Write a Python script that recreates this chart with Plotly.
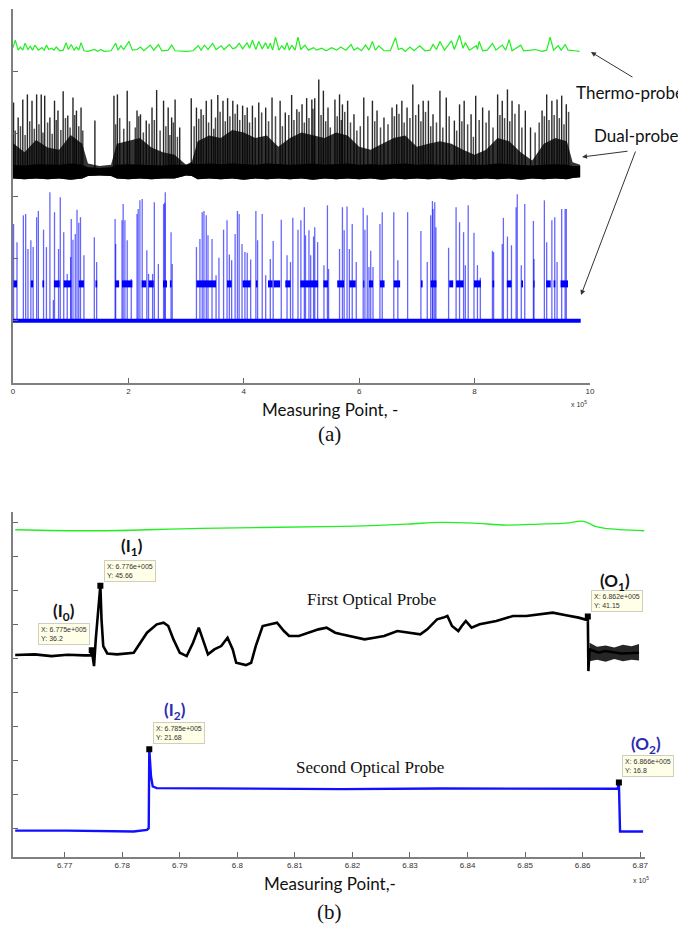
import plotly.graph_objects as go

# page body has an 8px margin; the figure fills the rest of the 686x928 window
OFF = 8
W, H = 686 - OFF, 928 - OFF

# ---------------- Panel (a): x in units of 1e5 measuring points, y = signal level (no labels) -------------
green_a_x = [0.00,0.04,0.09,0.13,0.17,0.21,0.26,0.30,0.34,0.38,0.44,0.50,0.54,0.58,0.62,0.67,0.71,0.75,0.81,0.87,
             0.92,0.96,1.01,1.06,1.10,1.14,1.18,1.23,1.30,1.41,1.47,1.52,1.58,1.70,1.78,1.82,1.87,1.92,2.01,2.07,
             2.15,2.21,2.27,2.38,2.44,2.52,2.58,2.69,2.75,2.81,3.01,3.12,3.21,3.26,3.32,3.38,3.46,3.52,3.61,3.66,
             3.75,3.81,3.86,3.92,3.98,4.06,4.10,4.15,4.21,4.26,4.32,4.38,4.42,4.46,4.50,4.55,4.61,4.66,4.71,4.75,
             4.79,4.83,4.89,4.94,4.99,5.06,5.12,5.21,5.26,5.35,5.43,5.52,5.61,5.68,
             5.77,5.86,5.91,5.97,6.04,6.11,6.17,6.23,6.28,6.34,6.43,6.54,6.63,6.68,6.74,6.80,6.88,6.95,7.05,7.14,
             7.23,7.28,7.34,7.40,7.48,7.60,7.65,7.74,7.80,7.84,7.91,8.03,8.05,8.08,8.14,8.22,8.31,8.37,8.48,8.54,
             8.60,8.65,8.80,8.85,8.97,9.05,9.17,9.25,9.31,9.37,9.45,9.50,9.57,9.62,9.74,9.82]
green_a_y = [5.38,5.50,5.34,5.39,5.34,5.45,5.35,5.40,5.34,5.42,5.34,5.38,5.34,5.42,5.35,5.37,5.34,5.39,5.33,5.34,
             5.46,5.35,5.43,5.34,5.39,5.34,5.46,5.33,5.32,5.35,5.32,5.35,5.32,5.33,5.45,5.34,5.41,5.35,5.48,5.34,
             5.35,5.39,5.33,5.42,5.34,5.43,5.33,5.34,5.42,5.33,5.32,5.33,5.41,5.34,5.42,5.35,5.45,5.35,5.41,5.35,
             5.43,5.36,5.38,5.45,5.36,5.46,5.37,5.50,5.35,5.48,5.36,5.46,5.36,5.45,5.34,5.55,5.34,5.41,5.35,5.46,
             5.34,5.42,5.34,5.55,5.35,5.42,5.34,5.38,5.34,5.37,5.33,5.38,5.34,5.39,
             5.34,5.43,5.34,5.38,5.33,5.42,5.34,5.48,5.34,5.41,5.33,5.33,5.54,5.35,5.37,5.32,5.39,5.33,5.41,5.33,
             5.34,5.43,5.35,5.48,5.34,5.49,5.35,5.58,5.37,5.46,5.34,5.41,5.35,5.48,5.33,5.34,5.45,5.34,5.42,5.34,
             5.51,5.33,5.42,5.33,5.34,5.35,5.32,5.34,5.55,5.34,5.41,5.34,5.43,5.34,5.33,5.32]

black_spike_x = [0.01,0.09,0.17,0.25,0.33,0.41,0.49,0.55,0.64,0.72,0.78,0.87,0.95,1.04,1.10,1.18,1.42,1.75,1.81,1.98,
                 2.15,2.21,2.31,2.41,2.49,2.61,2.69,2.75,2.81,2.89,3.09,3.18,3.26,3.35,3.44,3.55,3.64,3.72,3.81,3.89,
                 3.98,4.06,4.15,4.26,4.38,4.49,4.63,4.72,4.83,4.92,5.01,5.09,5.18,5.23,5.30,5.38,5.46,5.58,5.66,
                 5.71,5.80,5.91,6.08,6.23,6.31,6.43,6.57,6.65,6.74,6.83,6.93,7.03,7.11,7.20,7.28,7.40,7.51,7.65,7.74,
                 7.82,7.94,8.02,8.14,8.25,8.40,8.48,8.57,8.65,8.77,8.88,8.97,9.17,9.25,9.34,9.43,9.51,9.59]
black_spike_y = [4.50,4.26,4.55,4.63,4.53,4.63,4.63,4.61,4.26,4.53,4.37,4.68,4.29,4.58,4.37,4.42,4.21,4.61,4.63,4.69,
                 4.37,4.31,4.21,4.42,4.70,4.53,4.42,4.26,4.55,4.10,4.57,4.42,4.39,4.53,4.55,4.62,4.53,4.57,4.53,4.47,
                 4.45,4.42,4.45,4.50,4.42,4.58,4.53,4.34,4.62,4.39,4.47,4.57,4.55,4.57,4.87,4.69,4.42,4.55,4.63,
                 4.47,4.53,4.31,4.58,4.53,4.37,4.26,4.42,4.47,4.53,4.42,4.79,4.47,4.53,4.53,4.31,4.69,4.58,4.21,4.47,
                 4.53,4.31,4.61,4.42,4.37,4.63,4.53,4.71,4.53,4.47,4.37,4.10,4.37,4.63,4.53,4.55,4.61,4.47]
# lower, grey-looking spikes inside the bursts
black_minor_x = [0.04,0.13,0.21,0.29,0.37,0.45,0.52,0.60,0.68,0.75,0.83,0.91,0.99,1.07,1.14,1.21,1.78,1.85,1.92,2.02,
                 2.12,2.18,2.26,2.36,2.45,2.55,2.65,2.72,2.78,2.85,3.14,3.22,3.30,3.39,3.48,3.51,3.59,3.68,3.76,3.85,
                 3.93,4.02,4.10,4.20,4.31,4.43,4.55,4.67,4.78,4.87,4.96,5.05,5.13,5.20,5.34,5.42,5.50,5.62,5.69,5.75,
                 5.85,5.96,6.02,6.15,6.27,6.37,6.50,6.61,6.69,6.78,6.88,6.98,7.07,7.15,7.24,7.34,7.45,7.56,7.69,7.78,
                 7.88,7.98,8.08,8.20,8.32,8.44,8.52,8.61,8.70,8.82,9.05,9.12,9.21,9.29,9.38,9.47,9.55,9.63]
black_minor_y = [4.05,4.12,3.98,4.20,4.08,4.15,4.02,4.18,4.00,4.22,4.06,4.25,4.10,4.30,4.12,4.05,4.15,4.25,4.08,4.20,
                 4.10,4.28,4.02,4.16,4.22,4.05,4.12,3.98,4.18,3.95,4.12,4.24,4.30,4.18,4.08,4.26,4.35,4.20,4.28,4.32,
                 4.22,4.30,4.18,4.26,4.34,4.20,4.28,4.12,4.30,4.22,4.35,4.18,4.25,4.40,4.30,4.20,4.10,4.28,4.22,4.35,
                 4.18,4.05,4.12,4.28,4.20,4.10,4.15,4.28,4.32,4.18,4.25,4.30,4.20,4.35,4.12,4.18,4.10,4.28,4.05,4.20,
                 4.15,3.95,4.22,4.18,4.10,4.30,4.25,4.20,4.32,4.10,4.02,4.18,4.28,4.22,4.30,4.25,4.15,4.35]
black_band_x = [0.0,0.2,0.4,0.6,0.8,1.0,1.2,1.3,1.5,1.7,1.8,2.0,2.2,2.4,2.6,2.8,3.0,3.1,3.2,3.4,3.6,3.8,4.0,4.2,4.4,
                4.6,4.8,5.0,5.2,5.4,5.6,5.8,6.0,6.2,6.4,6.6,6.8,7.0,7.2,7.4,7.6,7.8,8.0,8.2,8.4,8.6,8.8,9.0,9.2,9.4,
                9.6,9.7,9.83]
black_band_lo = [3.28,3.27,3.28,3.27,3.28,3.26,3.28,3.32,3.33,3.32,3.28,3.27,3.28,3.27,3.28,3.28,3.33,3.32,3.27,3.28,
                 3.27,3.28,3.26,3.28,3.27,3.28,3.27,3.28,3.26,3.28,3.27,3.28,3.27,3.28,3.26,3.28,3.27,3.28,3.27,3.28,
                 3.26,3.28,3.27,3.28,3.27,3.28,3.26,3.28,3.27,3.28,3.27,3.29,3.30]
black_band_hi = [3.50,3.49,3.51,3.50,3.50,3.52,3.50,3.46,3.45,3.46,3.50,3.51,3.50,3.50,3.49,3.50,3.50,3.52,3.51,3.52,
                 3.51,3.52,3.51,3.50,3.52,3.51,3.50,3.51,3.52,3.50,3.51,3.52,3.50,3.51,3.50,3.51,3.52,3.50,3.51,3.50,
                 3.50,3.51,3.50,3.50,3.52,3.51,3.50,3.49,3.50,3.51,3.50,3.48,3.48]
black_burst_hi = [3.85,3.70,3.90,3.78,3.74,3.98,3.84,3.52,3.48,3.50,3.84,3.88,3.93,3.78,3.70,3.66,3.50,3.55,3.88,3.97,
                  3.93,4.06,4.02,3.93,3.97,3.79,3.93,4.02,3.97,3.93,4.02,3.97,3.79,3.74,3.84,3.93,3.97,3.79,3.84,3.88,
                  3.84,3.74,3.66,3.74,3.93,3.88,3.70,3.57,3.84,3.93,3.88,3.54,3.50]
black_base_level = 3.39

blue_spike_x = [0.01,0.07,0.18,0.22,0.26,0.31,0.35,0.41,0.44,0.53,0.58,0.64,0.70,0.72,0.79,0.82,0.88,0.94,1.00,1.01,
                1.04,1.08,1.11,1.14,1.17,1.23,1.41,1.45,1.77,1.78,1.89,1.91,1.94,1.98,2.05,2.15,2.17,2.20,2.24,2.32,
                2.35,2.42,2.45,2.52,2.61,2.63,2.64,2.74,2.76,3.18,3.24,3.28,3.31,3.35,3.38,3.45,3.52,3.57,3.65,3.71,
                3.75,3.79,3.85,3.89,3.92,3.97,4.02,4.06,4.12,4.21,4.24,4.32,4.38,4.46,4.51,4.65,4.75,4.81,4.85,4.94,
                4.99,5.05,5.07,5.13,5.16,5.21,5.23,5.28,5.39,5.45,5.47,5.66,
                5.71,5.74,5.79,5.83,5.88,5.95,6.07,6.10,6.14,6.17,6.20,6.24,6.36,6.40,6.60,6.67,6.84,7.07,7.18,7.24,
                7.27,7.28,7.31,7.33,7.55,7.68,7.74,7.81,7.84,7.89,7.99,8.05,8.10,8.31,8.33,8.48,8.50,8.57,8.64,8.72,
                8.74,8.81,8.87,9.02,9.03,9.21,9.25,9.34,9.39,9.43,9.51,9.57,9.59]
blue_spike_y = [2.55,2.26,2.69,2.71,2.15,2.29,2.18,2.66,2.76,2.46,2.18,3.06,1.33,2.74,2.15,2.98,2.42,1.75,2.02,2.63,
                2.30,2.39,2.78,2.57,2.66,2.05,2.34,1.94,2.63,2.23,2.61,2.87,2.61,2.29,1.67,2.71,2.79,2.93,2.95,2.13,
                1.75,1.75,2.90,1.91,2.87,2.89,3.06,2.42,1.91,2.18,2.31,2.74,2.76,2.69,2.37,2.31,1.73,2.01,2.46,2.61,
                2.06,1.97,2.39,2.76,2.71,2.23,2.10,2.09,1.98,2.76,2.29,2.71,1.73,1.99,2.28,2.62,2.05,1.94,2.65,2.46,
                2.61,2.82,2.37,2.45,2.05,2.35,2.50,2.26,1.89,2.85,1.83,2.15,
                2.82,2.45,2.83,2.15,2.55,1.94,2.81,2.46,2.69,1.86,2.12,1.86,2.55,2.74,2.74,1.97,2.74,2.44,1.94,2.69,
                2.92,2.79,2.90,2.50,2.17,2.82,2.58,2.42,1.89,2.85,2.41,1.89,1.69,2.12,2.10,2.23,2.65,2.35,2.21,2.82,
                3.03,1.89,2.87,2.60,1.99,2.93,2.26,2.61,2.66,1.94,2.79,2.79,2.79]
blue_block_start = [0.01,0.31,0.51,0.71,0.88,1.14,1.43,1.77,1.89,2.23,2.35,2.60,2.72,3.18,3.71,3.98,4.21,4.42,4.52,4.72,
                    4.98,5.38,5.62,5.83,6.07,6.17,6.36,6.60,7.07,7.24,7.56,7.68,7.99,8.31,8.56,8.81,9.02,9.24,9.37,9.49]
blue_block_end = [0.07,0.35,0.54,0.81,1.01,1.23,1.46,1.84,2.07,2.31,2.44,2.67,2.75,3.52,3.79,4.12,4.24,4.50,4.63,4.81,
                  5.29,5.46,5.74,5.94,6.09,6.24,6.44,6.71,7.10,7.34,7.63,7.81,8.11,8.34,8.64,8.84,9.04,9.32,9.40,9.62]
blue_levels = [1.00, 1.59]
blue_end_x = 9.84

# ---------------- Panel (b): x in units of 1e5, y = probe signal ----------------
green_b_x = [6.7614,6.7763,6.7935,6.8181,6.8295,6.8353,6.8410,6.8467,6.8525,6.8571,6.8602,6.8622,6.8639,6.8707]
green_b_y = [53.87,53.72,54.07,54.36,54.70,54.95,54.85,54.56,54.70,54.85,55.10,54.36,54.07,53.72]

black_b_x = [6.7614,6.7648,6.7677,6.7705,6.7734,6.7746,6.7747,6.7751,6.7754,6.7758,
             6.7762,6.7764,6.7767,6.7774,6.7791,6.7820,6.7832,6.7843,6.7860,6.7872,
             6.7880,6.7889,6.7900,6.7912,6.7923,6.7933,6.7940,6.7949,6.7960,6.7972,
             6.7983,6.7992,6.7998,6.8015,6.8024,6.8032,6.8044,6.8055,6.8069,6.8081,
             6.8090,6.8107,6.8124,6.8141,6.8155,6.8170,6.8181,6.8204,6.8221,6.8238,
             6.8255,6.8278,6.8295,6.8318,6.8330,6.8347,6.8358,6.8365,6.8373,6.8384,
             6.8390,6.8397,6.8407,6.8421,6.8450,6.8479,6.8502,6.8525,6.8548,6.8571,
             6.8593,6.8608,6.8609,6.8610,6.8612,6.8628,6.8639,6.8668,6.8698]
black_b_y = [35.49,35.59,35.34,35.54,35.44,35.44,36.22,33.87,37.79,41.22,
             45.73,40.73,36.81,35.73,35.59,35.83,37.30,38.77,40.00,40.24,
             39.75,37.79,35.83,35.34,37.30,39.51,37.79,35.59,36.32,36.81,
             38.04,36.32,34.36,34.02,34.36,36.81,39.75,40.00,40.24,39.02,
             38.28,38.28,38.77,39.26,39.51,38.77,38.53,38.04,37.79,38.04,
             38.28,39.02,38.77,38.53,39.26,40.73,40.98,41.22,39.75,39.02,
             39.75,40.49,39.51,40.00,40.49,41.22,41.22,41.47,41.71,41.32,
             40.98,40.63,41.27,33.14,36.32,35.83,36.08,35.73,35.83]
black_b_tail_x = [6.8612,6.8625,6.8640,6.8655,6.8670,6.8685,6.8698]
black_b_tail_lo = [34.6,34.8,34.5,34.9,34.6,34.8,34.7]
black_b_tail_hi = [37.3,36.7,36.9,36.6,37.0,36.8,37.1]

blue_b_x = [6.7614,6.7705,6.7820,6.7843,6.7846,6.7847,6.7850,6.7853,6.7860,6.7935,6.8181,6.8353,6.8525,6.8661,
            6.8663,6.8665,6.8705]
blue_b_y = [9.75,9.75,9.61,9.85,10.10,21.71,17.69,16.22,15.98,15.93,15.83,15.93,15.88,15.88,16.81,9.61,9.61]

tip_x = [6.7747, 6.7762, 6.8609, 6.7847, 6.8663]
tip_y = [36.2, 45.66, 41.15, 21.68, 16.8]
tip_text = ["X: 6.775e+005<br>Y: 36.2", "X: 6.776e+005<br>Y: 45.66", "X: 6.862e+005<br>Y: 41.15",
            "X: 6.785e+005<br>Y: 21.68", "X: 6.866e+005<br>Y: 16.8"]
event_labels = ["(I<sub>0</sub>)", "(I<sub>1</sub>)", "(O<sub>1</sub>)", "(I<sub>2</sub>)", "(O<sub>2</sub>)"]

xb_ticks = [6.77, 6.78, 6.79, 6.80, 6.81, 6.82, 6.83, 6.84, 6.85, 6.86, 6.87]
xb_ticktext = ["6.77", "6.78", "6.79", "6.8", "6.81", "6.82", "6.83", "6.84", "6.85", "6.86", "6.87"]


def spike_path(xs, ys, base):
    X, Y = [], []
    for x, y in zip(xs, ys):
        X += [x, x, None]
        Y += [base, y, None]
    return X, Y


def px(x):
    # window pixel -> paper fraction
    return (x - OFF) / W


def py(y):
    return 1 - (y - OFF) / H


fig = go.Figure()

# ---- panel (a) ----
fig.add_trace(go.Scatter(x=green_a_x, y=green_a_y, mode="lines",
                         line=dict(color="#22ee22", width=1.2), xaxis="x", yaxis="y"))

fig.add_trace(go.Scatter(x=black_band_x, y=black_band_lo, mode="lines", line=dict(width=0),
                         xaxis="x", yaxis="y"))
fig.add_trace(go.Scatter(x=black_band_x, y=black_burst_hi, mode="lines", line=dict(width=0),
                         fill="tonexty", fillcolor="rgba(0,0,0,0.8)", xaxis="x", yaxis="y"))
fig.add_trace(go.Scatter(x=black_band_x, y=black_band_lo, mode="lines", line=dict(width=0),
                         xaxis="x", yaxis="y"))
fig.add_trace(go.Scatter(x=black_band_x, y=black_band_hi, mode="lines", line=dict(width=0),
                         fill="tonexty", fillcolor="#000000", xaxis="x", yaxis="y"))
mx, my = spike_path(black_minor_x, black_minor_y, black_base_level)
fig.add_trace(go.Scatter(x=mx, y=my, mode="lines", line=dict(color="rgba(0,0,0,0.7)", width=1.5),
                         xaxis="x", yaxis="y"))
bx, by = spike_path(black_spike_x, black_spike_y, black_base_level)
fig.add_trace(go.Scatter(x=bx, y=by, mode="lines", line=dict(color="rgba(0,0,0,0.85)", width=1.4),
                         xaxis="x", yaxis="y"))

lo, mid = blue_levels
kx, ky = [], []
for s, e in zip(blue_block_start, blue_block_end):
    kx += [s, e, None]
    ky += [mid, mid, None]
ux, uy = spike_path(blue_spike_x, blue_spike_y, lo)
fig.add_trace(go.Scatter(x=ux, y=uy, mode="lines", line=dict(color="rgba(0,0,255,0.6)", width=1.3),
                         xaxis="x", yaxis="y"))
fig.add_trace(go.Scatter(x=[0.0, blue_end_x], y=[lo, lo], mode="lines", line=dict(color="#0000ff", width=4),
                         xaxis="x", yaxis="y"))
fig.add_trace(go.Scatter(x=kx, y=ky, mode="lines", line=dict(color="#0000ff", width=7),
                         xaxis="x", yaxis="y"))

# ---- panel (b) ----
fig.add_trace(go.Scatter(x=green_b_x, y=green_b_y, mode="lines", line=dict(color="#22ee22", width=1.3),
                         line_shape="spline", xaxis="x2", yaxis="y2"))
fig.add_trace(go.Scatter(x=black_b_tail_x, y=black_b_tail_lo, mode="lines", line=dict(width=0),
                         xaxis="x2", yaxis="y2"))
fig.add_trace(go.Scatter(x=black_b_tail_x, y=black_b_tail_hi, mode="lines", line=dict(width=0),
                         fill="tonexty", fillcolor="rgba(0,0,0,0.85)", xaxis="x2", yaxis="y2"))
fig.add_trace(go.Scatter(x=black_b_x, y=black_b_y, mode="lines", line=dict(color="#000000", width=2.6),
                         xaxis="x2", yaxis="y2"))
fig.add_trace(go.Scatter(x=blue_b_x, y=blue_b_y, mode="lines", line=dict(color="#1010ff", width=2.4),
                         xaxis="x2", yaxis="y2"))
fig.add_trace(go.Scatter(x=tip_x, y=tip_y, mode="markers",
                         marker=dict(symbol="square", size=6, color="#000000"),
                         xaxis="x2", yaxis="y2"))

axis_common = dict(showgrid=False, zeroline=False, showline=True, linecolor="#808080", linewidth=1.5,
                   ticks="inside", ticklen=5, tickwidth=1, tickcolor="#666666", mirror=False,
                   tickfont=dict(family="Liberation Sans", size=8, color="#333333"))

fig.update_layout(
    width=W, height=H, autosize=False, showlegend=False,
    margin=dict(l=0, r=0, t=0, b=0),
    paper_bgcolor="white", plot_bgcolor="white",
    xaxis=dict(domain=[px(11), px(594)], range=[0, 10], anchor="y",
               tickvals=[0, 2, 4, 6, 8, 10], **axis_common),
    yaxis=dict(domain=[py(383), py(9)], range=[0, 6], anchor="x",
               tickvals=[0, 1, 2, 3, 4, 5, 6], showticklabels=False, **axis_common),
    xaxis2=dict(domain=[px(11.5), px(650)], range=[6.7611, 6.8709], anchor="y2",
                tickvals=xb_ticks, ticktext=xb_ticktext, **axis_common),
    yaxis2=dict(domain=[py(857), py(512)], range=[5.88, 56.47], anchor="x2",
                tickvals=[10, 15, 20, 25, 30, 35, 40, 45, 50, 55], showticklabels=False, **axis_common),
)

ann = []
sans = "Lato"
serif = "Liberation Serif"
P = dict(xref="paper", yref="paper")
C = dict(xref="paper", yref="paper", xanchor="center", yanchor="middle", showarrow=False)
ann.append(dict(x=px(578), y=py(93), text="Thermo-probe", showarrow=False, xanchor="left", yanchor="middle",
                font=dict(family=sans, size=17, color="#111111"), **P))
ann.append(dict(x=px(596), y=py(135), text="Dual-probe", showarrow=False, xanchor="left", yanchor="middle",
                font=dict(family=sans, size=17, color="#111111"), **P))
for hx, hy, tx, ty in [(595, 52, 638, 78), (586, 157, 633, 151), (585, 295, 640, 150)]:
    ann.append(dict(x=px(hx), y=py(hy), ax=tx - hx, ay=ty - hy, text="", showarrow=True,
                    arrowhead=2, arrowsize=1, arrowwidth=1, arrowcolor="#333333", **P))
ann.append(dict(x=px(331), y=py(409), text="Measuring Point, -",
                font=dict(family=sans, size=17, color="#111111"), **C))
ann.append(dict(x=px(331), y=py(434), text="(a)",
                font=dict(family=serif, size=21, color="#111111"), **C))
ann.append(dict(x=px(583), y=py(404), text="x 10<sup>5</sup>",
                font=dict(family="Liberation Sans", size=7, color="#333333"), **C))
ann.append(dict(x=px(331), y=py(883), text="Measuring Point,-",
                font=dict(family=sans, size=17, color="#111111"), **C))
ann.append(dict(x=px(331), y=py(912), text="(b)",
                font=dict(family=serif, size=21, color="#111111"), **C))
ann.append(dict(x=px(646), y=py(880), text="x 10<sup>5</sup>",
                font=dict(family="Liberation Sans", size=7, color="#333333"), **C))
ann.append(dict(x=px(373), y=py(599), text="First Optical Probe",
                font=dict(family=serif, size=17, color="#111111"), **C))
ann.append(dict(x=px(372), y=py(767), text="Second Optical Probe",
                font=dict(family=serif, size=17, color="#111111"), **C))

tip_box_pos = [(36, 623), (103, 560), (595, 590), (152, 722), (626, 755)]
for (bx0, by0), t in zip(tip_box_pos, tip_text):
    ann.append(dict(x=px(bx0), y=py(by0), text=t, showarrow=False, xanchor="left", yanchor="top",
                    align="left", bgcolor="#ffffe8", bordercolor="#cfcfbf", borderwidth=1, borderpad=2,
                    font=dict(family="Liberation Sans", size=7, color="#333333"), **P))

label_pos = [(63, 612), (131, 547), (619, 582), (175, 711), (651, 745)]
label_col = ["#111111", "#111111", "#111111", "#2b2bb0", "#2b2bb0"]
for (lx, ly), t, c in zip(label_pos, event_labels, label_col):
    ann.append(dict(x=px(lx), y=py(ly), text="<b>" + t + "</b>",
                    font=dict(family=sans, size=17, color=c), **C))

fig.update_layout(annotations=ann)
fig.write_html("out.html")
